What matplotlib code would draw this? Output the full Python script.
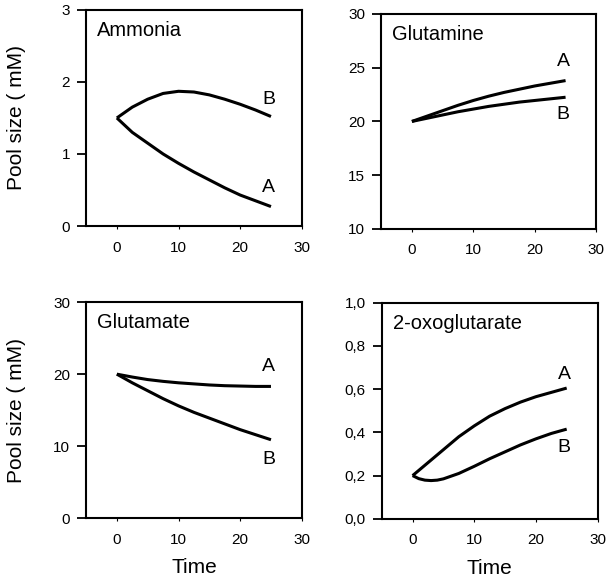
import matplotlib
matplotlib.use("Agg")
import matplotlib.pyplot as plt
from matplotlib.ticker import FuncFormatter

plt.rcParams["font.family"] = ["Liberation Sans", "DejaVu Sans"]

# time points
time = [0, 2.5, 5, 7.5, 10, 12.5, 15, 17.5, 20, 22.5, 25]

ammonia_a = [1.5, 1.3, 1.15, 1.0, 0.87, 0.75, 0.64, 0.53, 0.43, 0.35, 0.27]
ammonia_b = [1.5, 1.65, 1.76, 1.84, 1.87, 1.86, 1.82, 1.76, 1.69, 1.61, 1.52]

glutamine_a = [20, 20.5, 21.0, 21.5, 21.95, 22.35, 22.7, 23.0, 23.3, 23.55, 23.8]
glutamine_b = [20, 20.3, 20.6, 20.9, 21.15, 21.4, 21.6, 21.8, 21.95, 22.1, 22.25]

glutamate_a = [20, 19.6, 19.25, 19.0, 18.8, 18.65, 18.5, 18.4, 18.35, 18.3, 18.3]
glutamate_b = [20, 18.8, 17.7, 16.6, 15.6, 14.7, 13.9, 13.1, 12.3, 11.6, 10.9]

oxo_time_b = [0, 1, 2, 3, 4, 5, 7.5, 10, 12.5, 15, 17.5, 20, 22.5, 25]
oxo_a = [0.2, 0.26, 0.32, 0.38, 0.43, 0.475, 0.51, 0.54, 0.565, 0.585, 0.605]
oxo_b = [0.2, 0.186, 0.179, 0.177, 0.179, 0.185, 0.21, 0.243, 0.278, 0.31, 0.342, 0.37, 0.395, 0.415]

titles = ["Ammonia", "Glutamine", "Glutamate", "2-oxoglutarate"]
ylims = [(0, 3), (10, 30), (0, 30), (0, 1.0)]
yticks = [[0, 1, 2, 3], [10, 15, 20, 25, 30], [0, 10, 20, 30],
          [0, 0.2, 0.4, 0.6, 0.8, 1.0]]
xticks = [0, 10, 20, 30]
# label positions for curve names (A, B)
label_a = [(24.6, 0.54), (24.6, 25.6), (24.6, 21.0), (24.6, 0.67)]
label_b = [(24.6, 1.76), (24.6, 20.67), (24.6, 8.2), (24.6, 0.33)]

series = [
    (time, ammonia_a, time, ammonia_b),
    (time, glutamine_a, time, glutamine_b),
    (time, glutamate_a, time, glutamate_b),
    (time, oxo_a, oxo_time_b, oxo_b),
]

fig = plt.figure(figsize=(6.06, 5.81), dpi=100)
positions = [
    [0.142, 0.611, 0.356, 0.372],
    [0.629, 0.606, 0.355, 0.370],
    [0.142, 0.108, 0.356, 0.372],
    [0.630, 0.107, 0.356, 0.372],
]

for i, pos in enumerate(positions):
    ax = fig.add_axes(pos)
    ta, ya, tb, yb = series[i]
    ax.plot(ta, ya, color="black", lw=2.2, solid_capstyle="butt",
            solid_joinstyle="round")
    ax.plot(tb, yb, color="black", lw=2.2, solid_capstyle="butt",
            solid_joinstyle="round")
    ax.set_xlim(-5, 30)
    ax.set_ylim(*ylims[i])
    ax.set_xticks(xticks)
    ax.set_yticks(yticks[i])
    if i == 3:
        ax.yaxis.set_major_formatter(
            FuncFormatter(lambda v, p: "{:.1f}".format(v).replace(".", ",")))
    for sp in ax.spines.values():
        sp.set_linewidth(1.5)
    ax.tick_params(axis="y", direction="out", length=6.5, width=1.3,
                   labelsize=11, pad=5)
    ax.tick_params(axis="x", direction="out", length=2.5, width=0.8,
                   labelsize=11, pad=8)
    ax.text(0.05, 0.905, titles[i], transform=ax.transAxes, fontsize=14.5,
            ha="left", va="center")
    ax.text(*label_a[i], "A", fontsize=14, ha="center", va="center")
    ax.text(*label_b[i], "B", fontsize=14, ha="center", va="center")
    if i % 2 == 0:
        ax.set_ylabel("Pool size ( mM)", fontsize=15)
        ax.yaxis.set_label_coords(-0.278, 0.5)
    if i >= 2:
        ax.set_xlabel("Time", fontsize=15)
        ax.xaxis.set_label_coords(0.5, -0.185)

fig.savefig("out.png", dpi=100)
